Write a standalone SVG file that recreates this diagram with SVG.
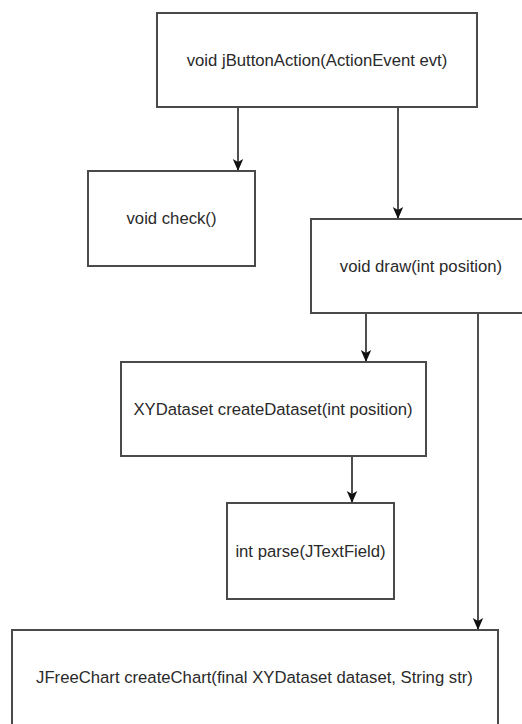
<svg xmlns="http://www.w3.org/2000/svg" width="522" height="724" viewBox="0 0 522 724">
  <style>
    .box { fill: #ffffff; stroke: #4a4a4a; stroke-width: 2; }
    .lbl { font-family: "Liberation Sans", Arial, sans-serif; font-size: 16.7px; fill: #2a2a2a; text-anchor: middle; dominant-baseline: central; }
    .edge { stroke: #222222; stroke-width: 1.6; fill: none; marker-end: url(#arrow); }
  </style>
  <defs>
    <marker id="arrow" markerUnits="userSpaceOnUse" markerWidth="12" markerHeight="12" viewBox="0 0 12 12" refX="12" refY="6" orient="auto">
      <path d="M0,0.8 L12,6 L0,11.2 L3,6 Z" fill="#111111"/>
    </marker>
  </defs>
  <rect width="522" height="724" fill="#ffffff"/>
  <g id="connectors">
    <line class="edge" x1="238" y1="107" x2="238" y2="171"/>
    <line class="edge" x1="398" y1="107" x2="398" y2="219"/>
    <line class="edge" x1="366" y1="313" x2="366" y2="362"/>
    <line class="edge" x1="478" y1="313" x2="478" y2="630"/>
    <line class="edge" x1="352" y1="456" x2="352" y2="503"/>
  </g>
  <g id="jButtonAction">
    <rect class="box" x="157" y="13" width="320" height="94"/>
    <text class="lbl" x="317" y="60">void jButtonAction(ActionEvent evt)</text>
  </g>
  <g id="check">
    <rect class="box" x="88" y="171" width="167" height="95"/>
    <text class="lbl" x="171.5" y="218.5">void check()</text>
  </g>
  <g id="draw">
    <rect class="box" x="311" y="219" width="220" height="94"/>
    <text class="lbl" x="421" y="266">void draw(int position)</text>
  </g>
  <g id="createDataset">
    <rect class="box" x="121" y="362" width="305" height="94"/>
    <text class="lbl" x="273" y="409">XYDataset createDataset(int position)</text>
  </g>
  <g id="parse">
    <rect class="box" x="227" y="503" width="167" height="96"/>
    <text class="lbl" x="310.5" y="551">int parse(JTextField)</text>
  </g>
  <g id="createChart">
    <rect class="box" x="12" y="630" width="486" height="98"/>
    <text class="lbl" x="254.5" y="677">JFreeChart createChart(final XYDataset dataset, String str)</text>
  </g>
</svg>
